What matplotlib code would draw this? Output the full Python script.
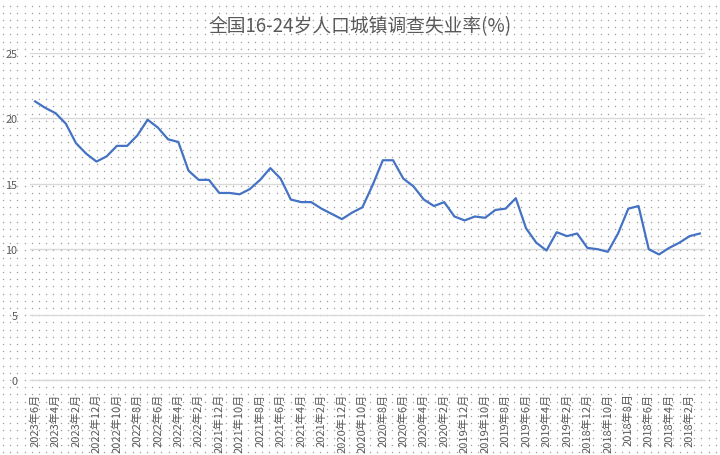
import numpy as np
import matplotlib
matplotlib.use("Agg")
import matplotlib.pyplot as plt

plt.rcParams['font.family'] = ['Noto Sans CJK SC', 'DejaVu Sans']

title = "全国16-24岁人口城镇调查失业率(%)"

# months from 2023-06 back to 2018-01
years = [2023]*6 + [2022]*12 + [2021]*12 + [2020]*12 + [2019]*12 + [2018]*12
months = list(range(6, 0, -1)) + list(range(12, 0, -1))*5
categories = [f"{y}年{m}月" for y, m in zip(years, months)]

values = [21.3, 20.8, 20.4, 19.6, 18.1, 17.3, 16.7, 17.1, 17.9, 17.9,
          18.7, 19.9, 19.3, 18.4, 18.2, 16.0, 15.3, 15.3, 14.3, 14.3,
          14.2, 14.6, 15.3, 16.2, 15.4, 13.8, 13.6, 13.6, 13.1, 12.7,
          12.3, 12.8, 13.2, 14.9, 16.8, 16.8, 15.4, 14.8, 13.8, 13.3,
          13.6, 12.5, 12.2, 12.5, 12.4, 13.0, 13.1, 13.9, 11.6, 10.5,
          9.9, 11.3, 11.0, 11.2, 10.1, 10.0, 9.8, 11.2, 13.1, 13.3,
          10.0, 9.6, 10.1, 10.5, 11.0, 11.2]

yticks = [0, 5, 10, 15, 20, 25]

W, H = 720, 456
fig = plt.figure(figsize=(W/100, H/100), dpi=100)
fig.patch.set_facecolor('white')

# dotted background
bg = fig.add_axes([0, 0, 1, 1], zorder=-5)
bg.set_xlim(0, W)
bg.set_ylim(0, H)
bg.axis('off')
gx, gy = np.meshgrid(np.arange(3, W, 7.2), np.arange(3, H, 7.2))
bg.scatter(gx.ravel(), gy.ravel(), s=1.1, c='#a0a0a0', marker='o', linewidths=0)

ax = fig.add_axes([30/W, 1-381/H, 675/W, (381-54)/H])
ax.set_facecolor('none')
x = np.arange(len(values))
ax.plot(x, values, color='#4472C4', linewidth=1.6, solid_joinstyle='round')

ax.set_xlim(-0.5, len(values)-0.5)
ax.set_ylim(0, 25)
ax.set_yticks(yticks)
ax.set_yticklabels([str(v) for v in yticks], fontsize=7.8, color='#595959')
ax.set_xticks(x[::2])
ax.set_xticklabels(categories[::2], rotation=90, fontsize=8, color='#595959')
ax.tick_params(axis='both', length=0)
ax.tick_params(axis='x', pad=9)
ax.tick_params(axis='y', pad=9)
ax.grid(axis='y', color='#d9d9d9', linewidth=1.0)
ax.set_axisbelow(True)
for s in ['top', 'right', 'left']:
    ax.spines[s].set_visible(False)
ax.spines['bottom'].set_color('#d9d9d9')
ax.spines['bottom'].set_linewidth(1.0)

fig.text(360/W, 1-27/H, title, ha='center', va='center', fontsize=13.5, color='#595959')

fig.savefig('out.png', dpi=100)
